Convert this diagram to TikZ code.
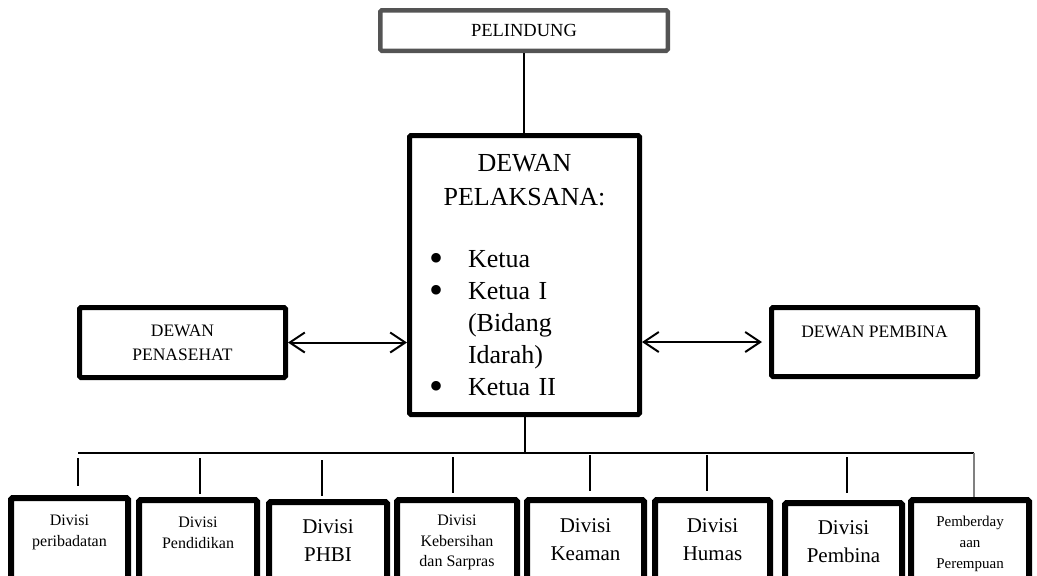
\documentclass[tikz,border=0pt]{standalone}
\usepackage{fontspec}
\setmainfont{Liberation Serif}
\usetikzlibrary{arrows.meta}
\newcommand{\listdot}{\makebox[39pt][l]{\smash{\raisebox{-4pt}{\fontsize{40}{32}\selectfont\textbullet}}}}

\begin{document}
\begin{tikzpicture}[x=1pt,y=-1pt]
	\tikzstyle{every node}=[inner sep=0pt]
	\tikzstyle{box}=[draw,rectangle,rounded corners=1.5pt,line width=5pt,align=center]
	\tikzstyle{divbox}=[box,line width=6pt,anchor=north,minimum height=110pt]
	\tikzstyle{divtext}=[anchor=north,yshift=-20pt,align=center]
	\tikzstyle{small}=[font=\fontsize{16}{20.5}\selectfont]
	\tikzstyle{large}=[font=\fontsize{21}{28}\selectfont]
	\tikzstyle{side}=[font=\fontsize{17.5}{24}\selectfont]
	\tikzstyle{link}=[line width=2pt]
	\tikzstyle{both}=[line width=2pt,{Straight Barb[length=15pt,width=20pt]}-{Straight Barb[length=15pt,width=20pt]}]
	\useasboundingbox (0,0) rectangle (1037,576);
	\node[box,draw=black!67,line width=4.5pt,minimum width=287.5pt,minimum height=40.5pt,font=\fontsize{18.5}{22}\selectfont] (pelindung) at (524,30.5) {PELINDUNG};
	\node[box,minimum width=230pt,minimum height=279pt,text width=191pt,inner xsep=19.5pt,align=left,font=\fontsize{26}{32}\selectfont] (pelaksana) at (524.5,275) {%
		{\centering\fontsize{26}{34}\selectfont DEWAN\\PELAKSANA:\par}\vspace{30pt}%
		\noindent\listdot Ketua\\
		\listdot Ketua I\\
		\hspace*{39pt}(Bidang\\
		\hspace*{39pt}Idarah)\\
		\listdot Ketua II};
	\node[box,side,minimum width=206pt,minimum height=70pt] (penasehat) at (182.5,342.5) {DEWAN\\PENASEHAT};
	\node[box,minimum width=206pt,minimum height=69pt,label={[divtext,side,yshift=-0.4pt]north:DEWAN PEMBINA}] (pembina) at (874.5,342) {};
	\node[divbox,minimum width=117pt,label={[divtext,small]north:Divisi\\peribadatan}] (div1) at (69.5,495) {};
	\node[divbox,minimum width=118pt,label={[divtext,small]north:Divisi\\Pendidikan}] (div2) at (198,497) {};
	\node[divbox,minimum width=118pt,label={[divtext,large]north:Divisi\\PHBI}] (div3) at (328,499) {};
	\node[divbox,minimum width=120pt,label={[divtext,small,yshift=2pt]north:Divisi\\Kebersihan\\dan Sarpras}] (div4) at (457,497) {};
	\node[divbox,minimum width=117pt,label={[divtext,large,yshift=-1.7pt]north:Divisi\\Keaman}] (div5) at (585.5,497) {};
	\node[divbox,minimum width=115pt,label={[divtext,large,yshift=-1.7pt]north:Divisi\\Humas}] (div6) at (712.5,497) {};
	\node[divbox,minimum width=117pt,label={[divtext,large]north:Divisi\\Pembina}] (div7) at (843.5,500) {};
	\node[divbox,minimum width=118pt,label={[divtext,font=\fontsize{15}{21}\selectfont,yshift=1pt]north:Pemberday\\aan\\Perempuan}] (div8) at (970,497) {};
	\coordinate (bl) at (78,453);
	\coordinate (br) at (974,453);
	\coordinate (d1) at (78,458);
	\coordinate (d2) at (200,458);
	\coordinate (d3) at (322,460);
	\coordinate (d4) at (453,457);
	\coordinate (d5) at (590,455);
	\coordinate (d6) at (707,455);
	\coordinate (d7) at (847,457);
	\draw[link] (pelindung.south) -- (pelindung.south |- pelaksana.north);
	\draw[link] (pelaksana.south) -- (pelaksana.south |- bl);
	\draw[link] (bl) -- (br);
	\draw[both] (penasehat.east) -- (penasehat.east -| pelaksana.west);
	\draw[both,shorten >=7pt] (pelaksana.east |- pembina.west) -- (pembina.west);
	\draw[link,shorten >=9pt] (d1) -- (d1 |- div1.north);
	\draw[link,shorten >=3pt] (d2) -- (d2 |- div2.north);
	\draw[link,shorten >=3pt] (d3) -- (d3 |- div3.north);
	\draw[link,shorten >=4pt] (d4) -- (d4 |- div4.north);
	\draw[link,shorten >=6pt] (d5) -- (d5 |- div5.north);
	\draw[link,shorten >=6pt] (d6) -- (d6 |- div6.north);
	\draw[link,shorten >=7pt] (d7) -- (d7 |- div7.north);
	\draw[line width=1.5pt,black!50] (br) -- (br |- div8.north);
\end{tikzpicture}
\end{document}
